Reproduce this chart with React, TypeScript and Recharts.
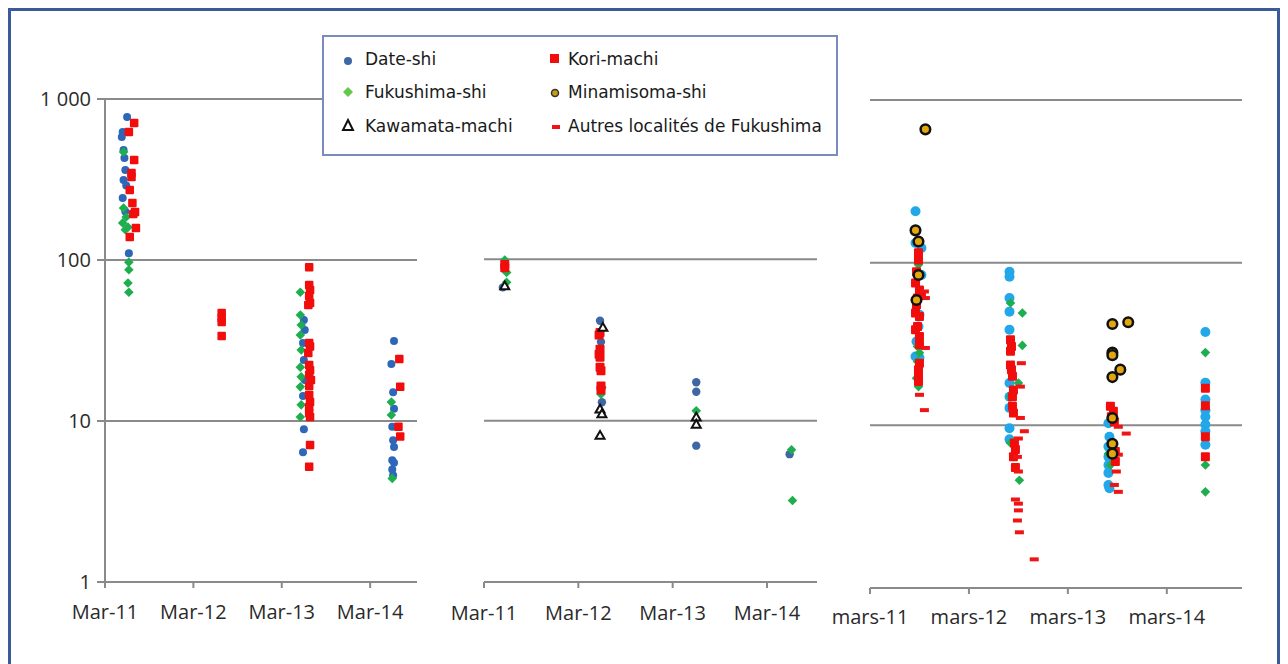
import { ScatterChart, Scatter, XAxis, YAxis, CartesianGrid } from "recharts";

// axis labels
const yearTicks = [0, 1, 2, 3];
const enLabels = ["Mar-11", "Mar-12", "Mar-13", "Mar-14"];
const frLabels = ["mars-11", "mars-12", "mars-13", "mars-14"];
const logTicks = [1, 10, 100, 1000];

// [years since Mar-11, value]
const p1Date = [
  [0.25, 773], [0.2, 624], [0.19, 581], [0.21, 482], [0.22, 430], [0.23, 362], [0.21, 314], [0.24, 290],
  [0.2, 243], [0.23, 200], [0.27, 110],
  [2.25, 42.4], [2.26, 36.7], [2.24, 30.5], [2.25, 23.9], [2.26, 18], [2.24, 14.3], [2.25, 8.9], [2.24, 6.4],
  [3.27, 31.4], [3.24, 22.6], [3.26, 15.1], [3.27, 11.9], [3.25, 9.2], [3.26, 7.6], [3.27, 6.9], [3.25, 5.7],
  [3.27, 5.5], [3.25, 5.0], [3.26, 4.6],
];
const p1Kori = [
  [0.33, 709], [0.27, 624], [0.33, 418], [0.3, 347], [0.3, 328], [0.28, 272], [0.31, 226], [0.34, 199],
  [0.32, 193], [0.35, 158], [0.28, 139],
  [1.32, 46.9], [1.32, 43.6], [1.32, 41.2], [1.32, 33.7],
  [2.31, 90], [2.31, 70], [2.32, 65], [2.31, 59.7], [2.32, 54], [2.3, 52.5], [2.31, 30.5], [2.32, 29],
  [2.3, 26.4], [2.31, 22.3], [2.32, 20.7], [2.31, 19.3], [2.33, 18], [2.31, 16.5], [2.31, 14.5], [2.32, 13.1],
  [2.31, 12.2], [2.31, 11.2], [2.32, 10.6], [2.32, 7.1], [2.31, 5.2],
  [3.33, 24.3], [3.34, 16.3], [3.32, 9.2], [3.34, 8.0],
];
const p1Fuku = [
  [0.21, 469], [0.21, 210], [0.24, 185], [0.2, 170], [0.26, 160], [0.23, 154], [0.27, 97], [0.27, 87],
  [0.26, 72], [0.27, 63],
  [2.21, 63], [2.21, 45.5], [2.22, 39.5], [2.21, 34.2], [2.22, 27.6], [2.21, 21.6], [2.22, 18.8],
  [2.21, 16.3], [2.22, 12.6], [2.21, 10.6],
  [3.24, 13.1], [3.24, 10.9], [3.25, 4.4],
];

const p2Date = [[0.2, 67], [1.23, 41.6], [1.24, 30.8], [1.25, 13], [2.25, 17.3], [2.25, 15.1], [2.25, 7.0], [3.24, 6.2]];
const p2Kori = [
  [0.22, 93], [0.22, 88.8], [1.23, 35.2], [1.22, 34], [1.23, 27.7], [1.22, 25.8], [1.23, 24.7], [1.23, 21.4],
  [1.24, 20.4], [1.24, 16.4], [1.24, 15.5],
];
const p2Fuku = [[0.22, 99], [0.24, 83], [0.24, 72], [1.25, 16.1], [1.24, 14.6], [2.25, 11.5], [3.26, 6.6], [3.27, 3.2]];
const p2Kawa = [[0.22, 68.4], [1.26, 37.8], [1.23, 11.8], [1.25, 11], [1.23, 8.1], [2.25, 10.5], [2.25, 9.5]];

const p3Date = [
  [0.46, 207], [0.46, 132], [0.52, 123], [0.52, 84], [0.5, 47.9], [0.49, 40.5], [0.47, 32.8], [0.46, 26.5], [0.5, 26],
  [1.41, 88], [1.41, 82], [1.41, 60.6], [1.41, 50], [1.41, 38.7], [1.41, 18.2], [1.41, 15], [1.41, 12.8],
  [1.41, 9.6], [1.41, 8.2],
  [2.41, 10.3], [2.42, 8.5], [2.41, 7.4], [2.41, 6.4], [2.41, 5.7], [2.41, 5.1], [2.41, 4.3], [2.42, 4.1],
  [3.39, 37.5], [3.39, 18.3], [3.39, 14.4], [3.39, 12.4], [3.39, 11.3], [3.39, 10.1], [3.39, 9.2], [3.39, 7.6],
];
const p3Fuku = [
  [0.49, 97], [0.48, 30.5], [0.5, 27.9], [0.48, 24.7], [0.47, 19.5], [0.49, 17.3],
  [1.42, 56.5], [1.54, 49], [1.54, 31], [1.5, 18.2], [1.42, 15], [1.42, 7.8], [1.51, 4.6],
  [2.41, 6.7], [2.43, 5.7],
  [3.39, 28], [3.39, 5.7], [3.39, 3.9],
];
const p3Kori = [
  [0.49, 115], [0.49, 104], [0.47, 88], [0.46, 75], [0.5, 68], [0.52, 63.5], [0.48, 60.6], [0.47, 55.2],
  [0.46, 49], [0.5, 46.7], [0.48, 40.5], [0.46, 38.7], [0.5, 35.2], [0.5, 31.3], [0.5, 24.1], [0.49, 22],
  [0.49, 20], [0.49, 18.6],
  [1.42, 33.6], [1.43, 30.5], [1.42, 28.5], [1.42, 23.5], [1.43, 22], [1.44, 20], [1.45, 16.5], [1.44, 15],
  [1.44, 13.1], [1.45, 11.9], [1.46, 7.8], [1.47, 7.1], [1.45, 6.4], [1.47, 5.5],
  [2.43, 13.1], [2.46, 12.2], [2.44, 11.3], [2.47, 10.5], [2.48, 6.9], [2.48, 6.0],
  [3.39, 16.9], [3.39, 13.2], [3.39, 8.5], [3.39, 6.4],
];
const p3Autres = [
  [0.55, 66.5], [0.56, 60.6], [0.56, 29.9], [0.5, 15.4], [0.55, 12.4],
  [1.53, 24.1], [1.52, 17.3], [1.52, 11.1], [1.56, 9.2], [1.5, 8.3], [1.49, 6.4], [1.5, 5.2], [1.47, 3.5],
  [1.5, 3.3], [1.5, 3.0], [1.49, 2.6], [1.51, 2.2], [1.66, 1.5],
  [2.51, 9.8], [2.59, 8.9], [2.51, 6.6], [2.49, 5.2], [2.47, 4.3], [2.51, 3.9],
];
const p3Mina = [
  [0.56, 660], [0.46, 158], [0.49, 135], [0.49, 84], [0.47, 59],
  [2.45, 42], [2.61, 43], [2.45, 28], [2.45, 27], [2.53, 22], [2.45, 19.8], [2.45, 11.1], [2.45, 7.7], [2.45, 6.7],
];

const pts = (arr: number[][]) => arr.map(([t, v]) => ({ t, v }));

const GRID = "#8a8a8a";
const TXT = "#2a2a2a";
const FONT = "'Open Sans', sans-serif";

const dot = (color: string, r: number) => (p: any) => <circle cx={p.cx} cy={p.cy} r={r} fill={color} />;
const square = (color: string, s: number) => (p: any) => (
  <rect x={p.cx - s / 2} y={p.cy - s / 2} width={s} height={s} rx={1} fill={color} />
);
const diamond = (color: string, s: number) => (p: any) => (
  <path d={`M${p.cx},${p.cy - s}L${p.cx + s},${p.cy}L${p.cx},${p.cy + s}L${p.cx - s},${p.cy}Z`} fill={color} />
);
const triangle = (s: number) => (p: any) => (
  <path
    d={`M${p.cx},${p.cy - s}L${p.cx + s},${p.cy + s * 0.75}L${p.cx - s},${p.cy + s * 0.75}Z`}
    fill="#fff"
    stroke="#111"
    strokeWidth={2}
  />
);
const ring = (r: number) => (p: any) => (
  <circle cx={p.cx} cy={p.cy} r={r} fill="#e3a60c" stroke="#111" strokeWidth={2.5} />
);
const dash = (color: string) => (p: any) => (
  <rect x={p.cx - 4.5} y={p.cy - 2} width={9} height={4} fill={color} />
);

type Series = { name: string; data: number[][]; shape: any };

function Panel(props: {
  left: number;
  width: number;
  margin: { top: number; right: number; bottom: number; left: number };
  xMax: number;
  labels: string[];
  showY: boolean;
  tickMargin: number;
  series: Series[];
}) {
  const { left, width, margin, xMax, labels, showY, tickMargin, series } = props;
  return (
    <div style={{ position: "absolute", left, top: 0 }}>
      <ScatterChart width={width} height={664} margin={margin}>
        <CartesianGrid vertical={false} stroke={GRID} strokeWidth={2} />
        <XAxis
          type="number"
          dataKey="t"
          domain={[0, xMax]}
          ticks={yearTicks}
          interval={0}
          allowDataOverflow
          tickFormatter={(v: number) => labels[v]}
          height={40}
          tickSize={6}
          tickMargin={tickMargin}
          axisLine={{ stroke: GRID, strokeWidth: 2 }}
          tickLine={{ stroke: GRID, strokeWidth: 2 }}
          tick={{ fontSize: 20, fill: TXT, fontFamily: FONT }}
        />
        <YAxis
          type="number"
          dataKey="v"
          scale="log"
          domain={[1, 1000]}
          ticks={logTicks}
          interval={0}
          allowDataOverflow
          hide={!showY}
          width={60}
          tickSize={8}
          tickMargin={6}
          tickFormatter={(v: number) => (v === 1000 ? "1 000" : String(v))}
          axisLine={{ stroke: GRID, strokeWidth: 2 }}
          tickLine={{ stroke: GRID, strokeWidth: 2 }}
          tick={{ fontSize: 20, fill: TXT, fontFamily: FONT }}
        />
        {series.map((s) => (
          <Scatter key={s.name} name={s.name} data={pts(s.data)} shape={s.shape} isAnimationActive={false} />
        ))}
      </ScatterChart>
    </div>
  );
}

const legendItems = [
  { label: "Date-shi", col: 0, row: 0, mark: <circle cx={8} cy={12} r={4} fill="#3e67a3" /> },
  { label: "Kori-machi", col: 1, row: 0, mark: <rect x={3} y={5} width={9} height={9} fill="#f20d0d" /> },
  { label: "Fukushima-shi", col: 0, row: 1, mark: <path d="M8,5L13,10L8,15L3,10Z" fill="#62c94a" /> },
  {
    label: "Minamisoma-shi",
    col: 1,
    row: 1,
    mark: <circle cx={8} cy={11} r={3.5} fill="#c99a14" stroke="#333" strokeWidth={1.5} />,
  },
  {
    label: "Kawamata-machi",
    col: 0,
    row: 2,
    mark: <path d="M8,4L13,14L3,14Z" fill="#fff" stroke="#111" strokeWidth={2} />,
  },
  { label: "Autres localités de Fukushima", col: 1, row: 2, mark: <rect x={5} y={9} width={8} height={4} fill="#f01515" /> },
];

function Legend() {
  return (
    <div
      style={{
        position: "absolute",
        left: 322,
        top: 35,
        width: 516,
        height: 121,
        boxSizing: "border-box",
        border: "2px solid #7a8cbb",
        background: "#fff",
        fontFamily: "'DejaVu Sans', sans-serif",
        fontSize: 17,
        color: "#1a1a1a",
      }}
    >
      {legendItems.map((it) => {
        const mx = it.col === 0 ? 16 : 223;
        const tx = it.col === 0 ? 41 : 244;
        const cy = [22, 55, 89][it.row];
        return (
          <div key={it.label}>
            <svg width={16} height={20} style={{ position: "absolute", left: mx, top: cy - 10 }}>
              {it.mark}
            </svg>
            <div style={{ position: "absolute", left: tx, top: cy - 12, lineHeight: "24px", whiteSpace: "nowrap" }}>
              {it.label}
            </div>
          </div>
        );
      })}
    </div>
  );
}

export default function App() {
  return (
    <div style={{ position: "absolute", left: 0, top: 0, width: 1288, height: 664, overflow: "hidden", background: "#fff" }}>
      <div
        style={{
          position: "absolute",
          left: 8,
          top: 8,
          width: 1266,
          height: 700,
          border: "3px solid #3c5a99",
        }}
      />
      <Panel
        left={0}
        width={440}
        margin={{ top: 99, right: 23, bottom: 42, left: 45 }}
        xMax={3.53}
        labels={enLabels}
        showY
        tickMargin={17}
        series={[
          { name: "Date-shi", data: p1Date, shape: dot("#2e67b8", 4) },
          { name: "Fukushima-shi", data: p1Fuku, shape: diamond("#1fae4f", 4.8) },
          { name: "Kori-machi", data: p1Kori, shape: square("#f20d0d", 8.5) },
        ]}
      />
      <Panel
        left={430}
        width={420}
        margin={{ top: 98, right: 33, bottom: 42, left: 54 }}
        xMax={3.53}
        labels={enLabels}
        showY={false}
        tickMargin={18}
        series={[
          { name: "Date-shi", data: p2Date, shape: dot("#3e67a3", 4.2) },
          { name: "Fukushima-shi", data: p2Fuku, shape: diamond("#1fae4f", 4.8) },
          { name: "Kori-machi", data: p2Kori, shape: square("#f20d0d", 9) },
          { name: "Kawamata-machi", data: p2Kawa, shape: triangle(4.5) },
        ]}
      />
      <Panel
        left={820}
        width={468}
        margin={{ top: 100, right: 46, bottom: 36, left: 50 }}
        xMax={3.76}
        labels={frLabels}
        showY={false}
        tickMargin={16}
        series={[
          { name: "Date-shi", data: p3Date, shape: dot("#22a7e8", 5) },
          { name: "Fukushima-shi", data: p3Fuku, shape: diamond("#1fae4f", 4.8) },
          { name: "Kori-machi", data: p3Kori, shape: square("#f20d0d", 9) },
          { name: "Autres localités de Fukushima", data: p3Autres, shape: dash("#f01515") },
          { name: "Minamisoma-shi", data: p3Mina, shape: ring(4.8) },
        ]}
      />
      <Legend />
    </div>
  );
}
